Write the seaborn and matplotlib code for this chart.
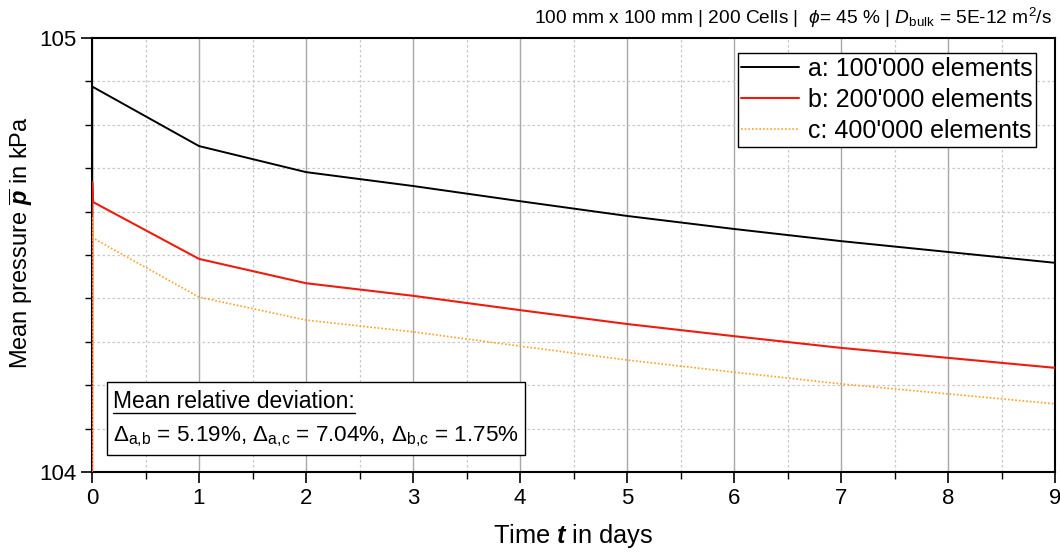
import numpy as np
import pandas as pd
import matplotlib
matplotlib.use("Agg")
import matplotlib.pyplot as plt
import seaborn as sns
from matplotlib.patches import Rectangle
from matplotlib.lines import Line2D
from matplotlib.ticker import MultipleLocator

# ---- data ----
time_days = [0.0, 0.002, 0.01, 1, 2, 3, 4, 5, 6, 7, 8, 9]
p_a_100k = [104.0, 104.887, 104.887, 104.751, 104.691, 104.659, 104.624, 104.590, 104.560, 104.532, 104.507, 104.482]
p_b_200k = [104.0, 104.668, 104.622, 104.491, 104.435, 104.406, 104.373, 104.341, 104.313, 104.286, 104.263, 104.240]
p_c_400k = [104.0, 104.588, 104.539, 104.403, 104.350, 104.323, 104.290, 104.258, 104.230, 104.203, 104.180, 104.157]
series_labels = ["a: 100'000 elements", "b: 200'000 elements", "c: 400'000 elements"]
x_ticks = [0, 1, 2, 3, 4, 5, 6, 7, 8, 9]
y_ticks = [104, 105]
deviation_lines = ["Mean relative deviation:",
                   r"Δ$_{\mathrm{a{,}b}}$ = 5.19%, Δ$_{\mathrm{a{,}c}}$ = 7.04%, Δ$_{\mathrm{b{,}c}}$ = 1.75%"]
header = r"100 mm x 100 mm | 200 Cells |  $\phi$= 45 % | $D_{\mathrm{bulk}}$ = 5E-12 m$^{2}$/s"

sns.set_style("white")
plt.rcParams['font.family'] = ['Liberation Sans', 'DejaVu Sans']
plt.rcParams['mathtext.fontset'] = 'custom'
plt.rcParams['mathtext.rm'] = 'Liberation Sans'
plt.rcParams['mathtext.it'] = 'Liberation Sans:italic'
plt.rcParams['mathtext.bf'] = 'Liberation Sans:bold'
plt.rcParams['mathtext.bfit'] = 'Liberation Sans:italic:bold'
for k in ['text.color', 'axes.labelcolor', 'xtick.color', 'ytick.color']:
    plt.rcParams[k] = 'black'

fig = plt.figure(figsize=(10.6, 5.58), dpi=100)
ax = fig.add_axes([92/1060, 1-472/558, 963/1060, 434/558])

styles = [dict(color="black", lw=1.4, ls="-"),
          dict(color="#ee1c0e", lw=1.5, ls="-"),
          dict(color="#ffa020", lw=1.2, ls=(0, (1, 1.2)))]
for vals, lab, st in zip([p_a_100k, p_b_200k, p_c_400k], series_labels, styles):
    df = pd.DataFrame({"t": time_days, "p": vals})
    sns.lineplot(data=df, x="t", y="p", ax=ax, estimator=None, sort=False,
                 label=lab, color=st["color"], linewidth=st["lw"], linestyle=st["ls"],
                 zorder=3)

ax.set_xlim(0, 9)
ax.set_ylim(104, 105)
ax.set_xticks(x_ticks)
ax.set_yticks(y_ticks)
ax.xaxis.set_minor_locator(MultipleLocator(0.5))
ax.yaxis.set_minor_locator(MultipleLocator(0.1))
ax.grid(which="major", axis="x", color="#a8a8a8", lw=1.0, ls="-")
ax.grid(which="minor", axis="both", color="#c8c8c8", lw=0.9, ls=(0, (2, 2)))
ax.set_axisbelow(True)
for s in ax.spines.values():
    s.set_color("black")
    s.set_linewidth(1.5)
ax.tick_params(which="major", direction="out", length=8, width=1.2, labelsize=16, color="black")
ax.tick_params(which="minor", direction="out", length=5, width=1.0, color="black")
ax.tick_params(axis="x", which="both", bottom=True)
ax.tick_params(axis="y", which="both", left=True)

ax.set_xlabel(r"Time $\mathbfit{t}$ in days", fontsize=18.3)
ax.xaxis.set_label_coords(0.5, -(536-472)/434)
ax.xaxis.label.set_va("center")
ax.set_ylabel(r"Mean pressure $\overline{\mathbfit{p}}$ in kPa", fontsize=17)
ax.yaxis.set_label_coords(-(92-21)/963, (472-243)/434)
ax.yaxis.label.set_va("center")

leg = ax.legend(loc="upper right", bbox_to_anchor=((1036-92)/963, (472-53)/434),
                fontsize=18, frameon=True, fancybox=False,
                edgecolor="black", borderaxespad=0.0, handlelength=2.3,
                labelspacing=0.28, borderpad=0.15, handletextpad=0.35)
leg.get_frame().set_linewidth(1.0)
leg.get_frame().set_alpha(1)
leg.set_zorder(6)

# annotation box
ax.add_patch(Rectangle((15/963, 17/434), 418/963, 73/434, transform=ax.transAxes,
                       facecolor="white", edgecolor="black", lw=1.0, zorder=5))
t1 = ax.text(21/963, 70/434, deviation_lines[0], transform=ax.transAxes, fontsize=16.5,
             va="center", ha="left", zorder=6)
ax.text(21/963, 35/434, deviation_lines[1], transform=ax.transAxes, fontsize=16.2,
        va="center", ha="left", zorder=6)

fig.text(1052/1060, 1-18/558, header, ha="right", va="center", fontsize=13.8)

fig.canvas.draw()
bb = t1.get_window_extent().transformed(fig.transFigure.inverted())
fig.add_artist(Line2D([bb.x0, bb.x1], [bb.y0 + 0.001, bb.y0 + 0.001], color="black", lw=1.0,
                      transform=fig.transFigure, zorder=7))

fig.savefig("out.png", dpi=100)
